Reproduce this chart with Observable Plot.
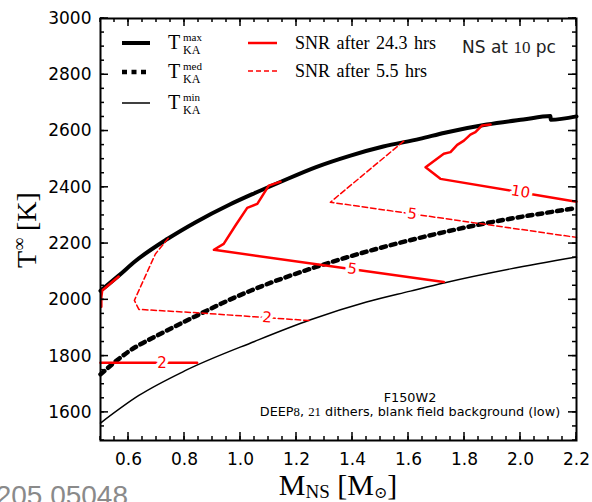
<!DOCTYPE html>
<html><head><meta charset="utf-8">
<script src="https://cdn.jsdelivr.net/npm/d3@7"></script>
<script src="https://cdn.jsdelivr.net/npm/@observablehq/plot@0.6"></script>
<style>body{margin:0;background:#fff;overflow:hidden} svg{display:block}</style>
</head><body><div id="chart"></div>
<script>
// ---- data ----
const tMaxMass = [0.5, 0.565, 0.625, 0.74, 0.84, 0.96, 1.05, 1.14, 1.27, 1.39, 1.51, 1.64, 1.73, 1.88, 2.01, 2.107, 2.108, 2.2];
const tMaxTemp = [2032, 2086, 2138, 2217, 2276, 2338, 2379, 2418, 2472, 2512, 2545, 2572, 2594, 2623, 2641, 2653, 2640, 2652];
const tMedMass = [0.5, 0.6, 0.72, 0.84, 0.93, 1.04, 1.27, 1.39, 1.63, 1.845, 2.2];
const tMedTemp = [1735, 1816, 1882, 1942, 1986, 2034, 2117, 2154, 2218, 2266, 2326];
const tMinMass = [0.5, 0.637, 0.804, 1.05, 1.25, 1.45, 1.607, 1.726, 1.964, 2.2];
const tMinTemp = [1562, 1660, 1749, 1852, 1929, 1992, 2031, 2060, 2110, 2152];

// SNR contours, 24.3 hrs (solid)
const snr24c2Mass = [0.5, 0.845];
const snr24c2Temp = [1776, 1776];
const snr24edgeMass = [0.503, 0.503, 0.506, 0.565];
const snr24edgeTemp = [1975, 2010, 2033, 2083];
const snr24c5Mass = [1.143, 1.101, 1.06, 1.024, 0.982, 0.94, 0.905, 1.726];
const snr24c5Temp = [2420, 2406, 2341, 2327, 2264, 2199, 2178, 2063];
const snr24c10Mass = [1.893, 1.863, 1.839, 1.821, 1.798, 1.774, 1.75, 1.726, 1.661, 1.714, 2.2];
const snr24c10Temp = [2623, 2620, 2596, 2587, 2566, 2551, 2525, 2519, 2471, 2430, 2349];
// SNR contours, 5.5 hrs (dashed)
const snr55c2Mass = [0.742, 0.696, 0.621, 0.637, 0.845, 1.25];
const snr55c2Temp = [2219, 2163, 1998, 1966, 1954, 1926];
const snr55c5Mass = [1.583, 1.321, 2.2];
const snr55c5Temp = [2564, 2347, 2222];

// contour labels
const lab24Mass = [0.72, 1.399, 2.0];
const lab24Temp = [1776, 2110, 2384];
const lab24Text = ["2", "5", "10"];
const lab55Mass = [1.095, 1.613];
const lab55Temp = [1937, 2305];
const lab55Text = ["2", "5"];

// ticks
const xMajor = [0.6, 0.8, 1.0, 1.2, 1.4, 1.6, 1.8, 2.0, 2.2];
const xMinor = d3.range(0.5, 2.2001, 0.05);
const yMajor = [1600, 1800, 2000, 2200, 2400, 2600, 2800, 3000];
const yMinor = d3.range(1500, 3000.1, 50);

// legend texts
const tkaSup = ["max", "med", "min"];
const snrLegend = ["SNR after 24.3 hrs", "SNR after 5.5 hrs"];

const pts = (xs, ys) => xs.map((x, i) => ({x, y: ys[i]}));
const red = "#ff0000";

const labOpts = {x: "x", y: "y", text: "t", fill: red, stroke: "white", strokeWidth: 7, paintOrder: "stroke", fontSize: 15, fontFamily: "DejaVu Sans"};
const labs = (xs, ys, ts) => xs.map((x, i) => ({x, y: ys[i], t: ts[i]}));
const l24 = labs(lab24Mass, lab24Temp, lab24Text);
const l55 = labs(lab55Mass, lab55Temp, lab55Text);

const chart = Plot.plot({
  width: 592, height: 502,
  marginLeft: 100, marginRight: 16, marginTop: 18, marginBottom: 62,
  x: {domain: [0.5, 2.2]},
  y: {domain: [1500, 3000]},
  style: {fontFamily: "DejaVu Sans", fontSize: "17px", color: "black", background: "white"},
  marks: [
    Plot.line(pts(tMinMass, tMinTemp), {x: "x", y: "y", stroke: "black", strokeWidth: 1.5, curve: "monotone-x"}),
    Plot.line(pts(tMedMass, tMedTemp), {x: "x", y: "y", stroke: "black", strokeWidth: 4.5, strokeDasharray: "5,5", curve: "monotone-x"}),
    Plot.line(pts(tMaxMass, tMaxTemp), {x: "x", y: "y", stroke: "black", strokeWidth: 4, curve: "monotone-x"}),
    Plot.line(pts(snr55c2Mass, snr55c2Temp), {x: "x", y: "y", stroke: red, strokeWidth: 1.5, strokeDasharray: "5.5,3"}),
    Plot.line(pts(snr55c5Mass, snr55c5Temp), {x: "x", y: "y", stroke: red, strokeWidth: 1.5, strokeDasharray: "5.5,3"}),
    Plot.line(pts(snr24c2Mass, snr24c2Temp), {x: "x", y: "y", stroke: red, strokeWidth: 2.5}),
    Plot.line(pts(snr24edgeMass, snr24edgeTemp), {x: "x", y: "y", stroke: red, strokeWidth: 2.5}),
    Plot.line(pts(snr24c5Mass, snr24c5Temp), {x: "x", y: "y", stroke: red, strokeWidth: 2.5}),
    Plot.line(pts(snr24c10Mass, snr24c10Temp), {x: "x", y: "y", stroke: red, strokeWidth: 2.5}),
    Plot.text([l24[0]], {...labOpts, rotate: 0}),
    Plot.text([l24[1]], {...labOpts, rotate: 8}),
    Plot.text([l24[2]], {...labOpts, rotate: 9.5}),
    Plot.text([l55[0]], {...labOpts, rotate: 4}),
    Plot.text([l55[1]], {...labOpts, rotate: 8.2}),
    Plot.axisX({anchor: "bottom", ticks: xMajor, tickSize: 0, tickPadding: 12, tickFormat: d3.format(".1f"), label: null, fontSize: 17}),
    Plot.axisY({anchor: "left", ticks: yMajor, tickSize: 0, tickPadding: 9, tickFormat: d3.format("d"), label: null, fontSize: 17}),
    Plot.frame({stroke: "black", strokeWidth: 2})
  ]
});
document.getElementById("chart").appendChild(chart);

// ---- inward ticks on all four sides, placed with the chart's own scales ----
const sx = chart.scale("x"), sy = chart.scale("y");
const svg = d3.select(chart);
const tg = svg.append("g").attr("stroke", "black").attr("stroke-width", 1.5);
const x0 = sx.apply(0.5), x1 = sx.apply(2.2), y0 = sy.apply(1500), y1 = sy.apply(3000);
const addX = (vals, len) => vals.forEach(v => {
  const px = sx.apply(v);
  tg.append("line").attr("x1", px).attr("x2", px).attr("y1", y0).attr("y2", y0 - len);
  tg.append("line").attr("x1", px).attr("x2", px).attr("y1", y1).attr("y2", y1 + len);
});
const addY = (vals, len) => vals.forEach(v => {
  const py = sy.apply(v);
  tg.append("line").attr("y1", py).attr("y2", py).attr("x1", x0).attr("x2", x0 + len);
  tg.append("line").attr("y1", py).attr("y2", py).attr("x1", x1).attr("x2", x1 - len);
});
addX(xMinor, 4); addX(xMajor, 8);
addY(yMinor, 4); addY(yMajor, 8);

// ---- annotations, legend, axis titles ----
const serif = "Liberation Serif";
const g = svg.append("g").attr("text-anchor", "start");

// legend: T_KA lines
const legY = [43, 72, 103];
const legDash = [null, "5,4.5", null];
const legW = [4, 4.5, 1.5];
legY.forEach((y, i) => {
  const ln = g.append("line").attr("x1", 122).attr("x2", 150).attr("y1", y).attr("y2", y)
    .attr("stroke", "black").attr("stroke-width", legW[i]);
  if (legDash[i]) ln.attr("stroke-dasharray", legDash[i]);
  const t = g.append("text").attr("font-family", serif).attr("y", y + 6);
  t.append("tspan").attr("x", 168).attr("font-size", 20).text("T");
  t.append("tspan").attr("x", 183).attr("dy", -8).attr("font-size", 11).text(tkaSup[i]);
  t.append("tspan").attr("x", 183).attr("dy", 12.5).attr("font-size", 12).text("KA");
});
// legend: SNR lines
[43, 71].forEach((y, i) => {
  const ln = g.append("line").attr("x1", 248).attr("x2", 277).attr("y1", y).attr("y2", y)
    .attr("stroke", red).attr("stroke-width", i ? 1.5 : 2.5);
  if (i) ln.attr("stroke-dasharray", "5,3");
  g.append("text").attr("x", 295).attr("y", y + 5.5).attr("font-family", serif)
    .attr("font-size", 18).attr("word-spacing", 2).text(snrLegend[i]);
});
// NS at 10 pc
{
  const t = g.append("text").attr("x", 462).attr("y", 53).attr("font-size", 17).attr("fill", "#222")
    .attr("font-family", "DejaVu Sans");
  t.append("tspan").text("NS at ");
  t.append("tspan").attr("font-family", serif).text("10");
  t.append("tspan").text(" pc");
}
// filter / mode text
{
  g.append("text").attr("x", 410).attr("y", 402).attr("text-anchor", "middle")
    .attr("font-size", 12.8).attr("font-family", "DejaVu Sans").text("F150W2");
  const t = g.append("text").attr("x", 410).attr("y", 416).attr("text-anchor", "middle")
    .attr("font-size", 12.8).attr("font-family", "DejaVu Sans");
  t.append("tspan").text("DEEP");
  t.append("tspan").attr("font-family", serif).text("8");
  t.append("tspan").text(", ");
  t.append("tspan").attr("font-family", serif).text("21");
  t.append("tspan").text(" dithers, blank field background (low)");
}
// x axis title
{
  const t = g.append("text").attr("x", 338).attr("y", 495).attr("text-anchor", "middle")
    .attr("font-family", serif).attr("font-size", 30);
  t.append("tspan").text("M");
  t.append("tspan").attr("font-size", 19).attr("dy", 3).text("NS");
  t.append("tspan").attr("dy", -3).text(" [M");
  t.append("tspan").attr("font-size", 16).attr("dy", 3).attr("font-family", "DejaVu Serif").text("\u2299");
  t.append("tspan").attr("dy", -3).text("]");
}
// y axis title
{
  const t = g.append("text").attr("transform", "translate(36,230) rotate(-90)").attr("text-anchor", "middle")
    .attr("font-family", serif).attr("font-size", 28);
  t.append("tspan").text("T");
  t.append("tspan").attr("font-size", 18).attr("dy", -11).text("\u221E");
  t.append("tspan").attr("dy", 11).text(" [K]");
}
// watermark (cut by the page edge as in the reference)
g.append("text").attr("x", 128).attr("y", 505).attr("text-anchor", "end")
  .attr("font-family", "Liberation Sans").attr("font-size", 28).attr("fill", "#8a8a8a")
  .text("arXiv:2205.05048");
</script>
</body></html>
